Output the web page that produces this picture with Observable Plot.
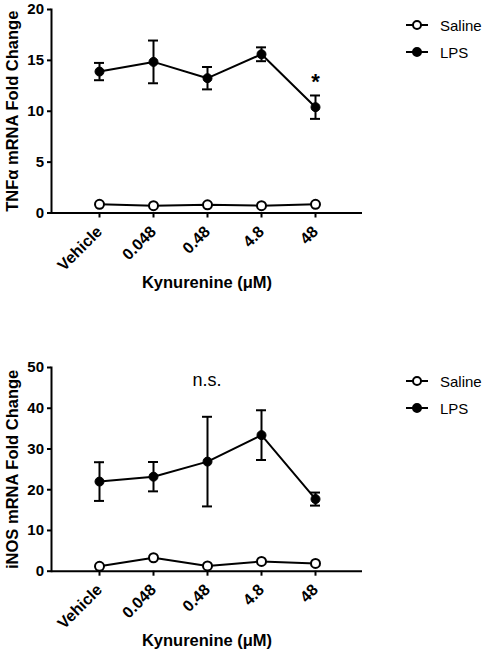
<!DOCTYPE html>
<html>
<head>
<meta charset="utf-8">
<script src="https://cdn.jsdelivr.net/npm/d3@7"></script>
<script src="https://cdn.jsdelivr.net/npm/@observablehq/plot@0.6"></script>
<style>
  html, body { margin: 0; padding: 0; background: #fff; }
  #root { position: relative; width: 490px; height: 651px; overflow: hidden; background: #fff; }
  .panel { position: absolute; left: 0; }
  .legend { position: absolute; left: 404px; font-family: "Liberation Sans", Arial, sans-serif; font-size: 15px; color: #000; }
  .legend .row { display: flex; align-items: center; height: 27px; }
  .legend svg { display: block; margin-right: 10px; }
</style>
</head>
<body>
<div id="root"></div>
<script>
// ---- data ----
const categories = ["Vehicle", "0.048", "0.48", "4.8", "48"];
const seriesNames = ["Saline", "LPS"];

const tnfSaline = [0.85, 0.72, 0.8, 0.72, 0.85];
const tnfLps = [13.9, 14.85, 13.25, 15.6, 10.4];
const tnfLpsErr = [0.85, 2.1, 1.1, 0.68, 1.15];
const tnfYTicks = [0, 5, 10, 15, 20];
const tnfYLabel = "TNFα mRNA Fold Change";

const inosSaline = [1.2, 3.3, 1.3, 2.4, 1.9];
const inosLps = [22.0, 23.2, 26.9, 33.4, 17.7];
const inosLpsErr = [4.75, 3.6, 11.0, 6.1, 1.6];
const inosYTicks = [0, 10, 20, 30, 40, 50];
const inosYLabel = "iNOS mRNA Fold Change";

const xLabel = "Kynurenine (μM)";
const tnfMarks = [{cat: "48", text: "*"}];
const inosNote = "n.s.";

// ---- build ----
const FONT = "Liberation Sans, Arial, Helvetica, sans-serif";

function rows(saline, lps, err) {
  const s = categories.map((c, i) => ({cat: c, v: saline[i], series: "Saline"}));
  const l = categories.map((c, i) => ({cat: c, v: lps[i], lo: lps[i] - err[i], hi: lps[i] + err[i], series: "LPS"}));
  return {s, l};
}

function panel({saline, lps, err, yTicks, yLabel, height, marginTop, marginBottom, extra}) {
  const {s, l} = rows(saline, lps, err);
  return Plot.plot({
    width: 490,
    height,
    marginLeft: 51,
    marginRight: 128,
    marginTop,
    marginBottom,
    style: {fontFamily: FONT, color: "#000", background: "transparent", overflow: "visible"},
    x: {type: "point", domain: categories, padding: 0.865},
    y: {domain: [yTicks[0], yTicks[yTicks.length - 1]]},
    marks: [
      Plot.frame({anchor: "left", strokeWidth: 2, stroke: "#000"}),
      Plot.ruleY([0], {strokeWidth: 2, stroke: "#000"}),
      Plot.axisY({ticks: yTicks, tickSize: 4, tickPadding: 3.5, fontSize: 15, fontWeight: "bold", label: null, strokeWidth: 2}),
      Plot.axisX({tickSize: 5, tickRotate: -45, tickPadding: 11, fontSize: 16, fontWeight: "bold", label: null, strokeWidth: 2}),
      Plot.text([yLabel], {frameAnchor: "left", textAnchor: "middle", lineAnchor: "middle", rotate: -90, dx: -39, fontSize: 16.5, fontWeight: "bold", fill: "#000"}),
      Plot.text([xLabel], {frameAnchor: "bottom", textAnchor: "middle", lineAnchor: "middle", dy: 70, fontSize: 16.5, fontWeight: "bold", fill: "#000"}),
      // LPS error bars
      Plot.ruleX(l, {x: "cat", y1: "lo", y2: "hi", strokeWidth: 2, stroke: "#000"}),
      Plot.ruleY(l, {x1: "cat", x2: "cat", y: "hi", insetLeft: -5, insetRight: -5, strokeWidth: 2, stroke: "#000"}),
      Plot.ruleY(l, {x1: "cat", x2: "cat", y: "lo", insetLeft: -5, insetRight: -5, strokeWidth: 2, stroke: "#000"}),
      // lines
      Plot.line(s, {x: "cat", y: "v", strokeWidth: 2, stroke: "#000"}),
      Plot.line(l, {x: "cat", y: "v", strokeWidth: 2, stroke: "#000"}),
      // points
      Plot.dot(s, {x: "cat", y: "v", r: 4.5, fill: "#fff", stroke: "#000", strokeWidth: 2}),
      Plot.dot(l, {x: "cat", y: "v", r: 4.5, fill: "#000", stroke: "#000", strokeWidth: 1}),
      ...extra(l)
    ]
  });
}

const root = document.getElementById("root");

const topPanel = panel({
  saline: tnfSaline, lps: tnfLps, err: tnfLpsErr, yTicks: tnfYTicks, yLabel: tnfYLabel,
  height: 320, marginTop: 9, marginBottom: 107.5,
  extra: (l) => [
    Plot.text(tnfMarks, {
      x: "cat",
      y: (d) => l.find((r) => r.cat === d.cat).hi,
      text: "text", dy: -14, fontSize: 22, fontWeight: "bold", fill: "#000"
    })
  ]
});
topPanel.classList.add("panel");
topPanel.style.top = "0px";
root.appendChild(topPanel);

const bottomPanel = panel({
  saline: inosSaline, lps: inosLps, err: inosLpsErr, yTicks: inosYTicks, yLabel: inosYLabel,
  height: 331, marginTop: 47, marginBottom: 80.3,
  extra: () => [
    Plot.text([inosNote], {frameAnchor: "top", dy: 6, fontSize: 18, fill: "#000"})
  ]
});
bottomPanel.classList.add("panel");
bottomPanel.style.top = "320px";
root.appendChild(bottomPanel);

function legend(topPx) {
  const div = d3.select(root).append("div").attr("class", "legend").style("top", topPx + "px");
  seriesNames.forEach((name) => {
    const row = div.append("div").attr("class", "row");
    const svg = row.append("svg").attr("width", 26).attr("height", 14);
    svg.append("line").attr("x1", 2).attr("x2", 24).attr("y1", 7).attr("y2", 7).attr("stroke", "#000").attr("stroke-width", 2);
    svg.append("circle").attr("cx", 13).attr("cy", 7).attr("r", 4)
      .attr("fill", name === "Saline" ? "#fff" : "#000").attr("stroke", "#000").attr("stroke-width", 2);
    row.append("span").text(name);
  });
}
legend(11.5);
legend(367.5);
</script>
</body>
</html>
